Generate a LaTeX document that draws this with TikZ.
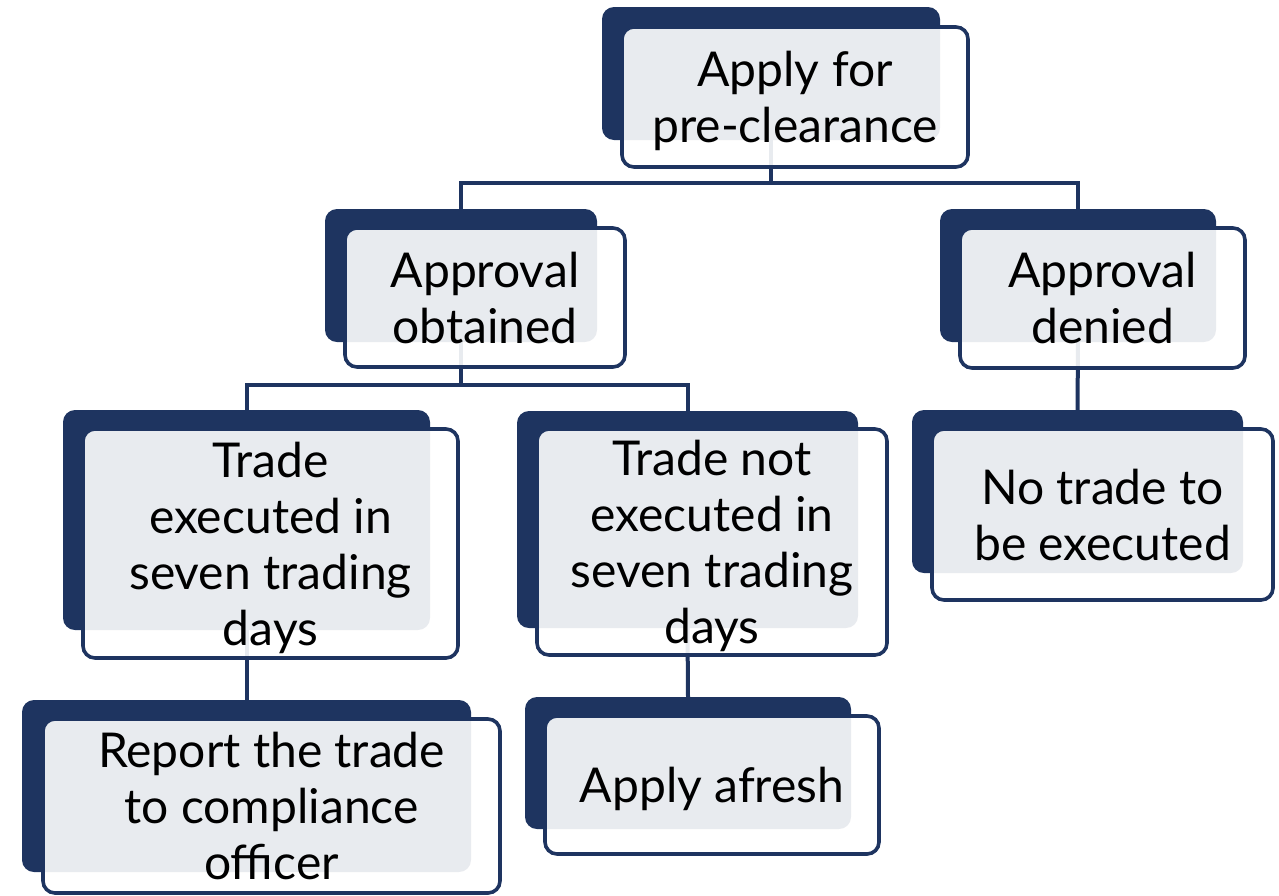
\documentclass[tikz,border=0pt]{standalone}
\usepackage{fontspec}
\setmainfont{Lato}
\usetikzlibrary{calc}
\definecolor{navy}{HTML}{1E3460}
\pgfdeclarelayer{bg}
\pgfsetlayers{bg,main}
\tikzset{
  backbox/.style={fill=navy, draw=none, rounded corners=12pt, inner sep=0pt, outer sep=0pt},
  frontbox/.style={fill=white, fill opacity=0.9, text opacity=1, draw=navy, line width=3.6pt,
    rounded corners=12pt, inner sep=0pt, outer sep=0pt, align=center, text=black,
    text depth=0pt, font=\fontsize{48}{56}\selectfont},
  link/.style={draw=navy, line width=4pt}
}
\begin{document}
\begin{tikzpicture}[x=1pt, y=-1pt]
\useasboundingbox (0,0) rectangle (1279,895);

% level 0
\node[backbox, minimum width=338pt, minimum height=133pt] (b1) at (771,73.5) {};
\node[frontbox, minimum width=346pt, minimum height=140pt] (f1) at (795,97) {Apply for\\pre-clearance};

% level 1
\node[backbox, minimum width=272pt, minimum height=133pt] (b2) at (461,275.5) {};
\node[frontbox, minimum width=280pt, minimum height=139pt] (f2) at (485,297.5) {Approval\\obtained};
\node[backbox, minimum width=276pt, minimum height=133pt] (b3) at (1078,275.5) {};
\node[frontbox, minimum width=285pt, minimum height=140pt] (f3) at (1102.5,298) {Approval\\denied};

% level 2
\node[backbox, minimum width=367pt, minimum height=220pt] (b4) at (246.5,520) {};
\node[frontbox, minimum width=375pt, minimum height=229pt] (f4) at (270.5,543.5) {Trade\\executed in\\seven trading\\days};
\node[backbox, minimum width=341pt, minimum height=217pt] (b5) at (687.5,519.5) {};
\node[frontbox, minimum width=350pt, minimum height=226pt] (f5) at (712,542) {Trade not\\executed in\\seven trading\\days};
\node[backbox, minimum width=331pt, minimum height=163pt] (b6) at (1077.5,491.5) {};
\node[frontbox, minimum width=341pt, minimum height=171pt] (f6) at (1102.5,514.5) {No trade to\\be executed};

% level 3
\node[backbox, minimum width=449pt, minimum height=172pt] (b7) at (246.5,786) {};
\node[frontbox, minimum width=457pt, minimum height=174pt] (f7) at (271.5,806) {Report the trade\\to compliance\\officer};
\node[backbox, minimum width=326pt, minimum height=132pt] (b8) at (688,763) {};
\node[frontbox, minimum width=334pt, minimum height=138pt] (f8) at (712,785) {Apply afresh};

% connectors run behind the boxes
\coordinate (j1) at (771,183);
\coordinate (j2) at (461,385);
\begin{pgfonlayer}{bg}
  \draw[link] (b1.south) -- (b1.south |- j1);
  \draw[link] (b1.south |- j1) -| (b2.north);
  \draw[link] (b1.south |- j1) -| (b3.north);
  \draw[link] (b2.south) -- (b2.south |- j2);
  \draw[link] (b2.south |- j2) -| (b4.north);
  \draw[link] (b2.south |- j2) -| (b5.north);
  \draw[link] (b3.south) -- (b6.north);
  \draw[link] (b4.south) -- (b7.north);
  \draw[link] (b5.south) -- (b8.north);
\end{pgfonlayer}
\end{tikzpicture}
\end{document}
